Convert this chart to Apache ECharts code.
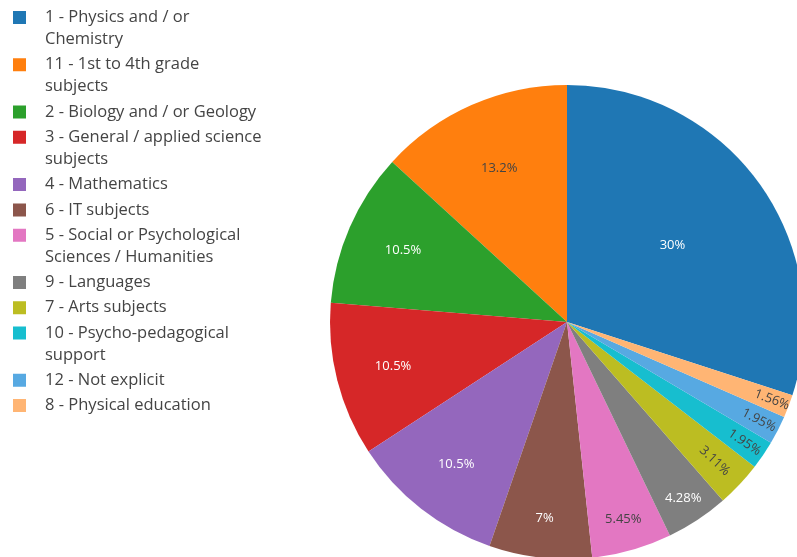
<!DOCTYPE html>
<html>
<head>
<meta charset="utf-8">
<title>Subject areas</title>
<script src="https://cdn.jsdelivr.net/npm/echarts@6/dist/echarts.min.js"></script>
<style>
  html, body { margin: 0; padding: 0; background: #fff; }
  #chart { width: 797px; height: 557px; }
</style>
</head>
<body>
<div id="chart"></div>
<script>
// Subject areas and their share of the total (percent), in drawing order.
const categories = [
  '1 - Physics and / or\nChemistry',
  '11 - 1st to 4th grade\nsubjects',
  '2 - Biology and / or Geology',
  '3 - General / applied science\nsubjects',
  '4 - Mathematics',
  '6 - IT subjects',
  '5 - Social or Psychological\nSciences / Humanities',
  '9 - Languages',
  '7 - Arts subjects',
  '10 - Psycho-pedagogical\nsupport',
  '12 - Not explicit',
  '8 - Physical education'
];
const shares = [30, 13.2, 10.5, 10.5, 10.5, 7, 5.45, 4.28, 3.11, 1.95, 1.95, 1.56];

// Slice colours.
const colors = [
  '#1f77b4', '#ff7f0e', '#2ca02c', '#d62728', '#9467bd', '#8c564b',
  '#e377c2', '#7f7f7f', '#bcbd22', '#17becf', '#57a9e2', '#ffb574'
];

// Pie geometry and label placement (fraction of radius, radial text for thin slices).
const CX = 567, CY = 322, RADIUS = 237;
const START_ANGLE = 90 - 360 * shares[0] / 100;
const labelRadius = [0.55, 0.71, 0.755, 0.757, 0.76, 0.835, 0.865, 0.89, 0.855, 0.905, 0.91, 0.925];
const radialText = [false, false, false, false, false, false, false, false, true, true, true, true];

const total = shares.reduce((a, b) => a + b, 0);
const midAngles = [];
let acc = START_ANGLE;
shares.forEach(v => {
  const span = v / total * 360;
  midAngles.push(acc + span / 2);
  acc += span;
});

// Dark text on light slices, white on dark ones.
function textColorFor(hex) {
  const r = parseInt(hex.slice(1, 3), 16), g = parseInt(hex.slice(3, 5), 16), b = parseInt(hex.slice(5, 7), 16);
  return (r * 299 + g * 587 + b * 114) / 1000 >= 128 ? '#444' : '#fff';
}

// Legend markers: square centred for one-line entries, at the top for two-line ones.
const ICON_SINGLE = 'path://M0,0L13,0M0,11L13,11L13,24L0,24ZM0,35L13,35';
const ICON_DOUBLE = 'path://M0,0L13,0L13,13L0,13ZM0,35L13,35';

const chart = echarts.init(document.getElementById('chart'), null, { renderer: 'canvas' });

chart.setOption({
  animation: false,
  backgroundColor: '#fff',
  color: colors,
  legend: {
    orient: 'vertical',
    left: 13,
    top: 0,
    padding: 0,
    itemWidth: 13,
    itemHeight: 35,
    itemGap: -9.72,
    selectedMode: false,
    itemStyle: { borderWidth: 0 },
    textStyle: {
      fontFamily: 'Open Sans',
      fontSize: 16.5,
      color: '#444',
      lineHeight: 22,
      padding: [0, 0, 0, 14]
    },
    data: categories.map(name => {
      const twoLines = name.indexOf('\n') >= 0;
      return {
        name: name,
        icon: twoLines ? ICON_DOUBLE : ICON_SINGLE,
        textStyle: { padding: twoLines ? [6.5, 0, 6.5, 14] : [0, 0, 0, 14] }
      };
    })
  },
  series: [{
    type: 'pie',
    center: [CX, CY],
    radius: RADIUS,
    startAngle: START_ANGLE,
    clockwise: false,
    avoidLabelOverlap: false,
    silent: true,
    itemStyle: { borderWidth: 0 },
    emphasis: { disabled: true },
    labelLine: { show: false },
    label: {
      show: true,
      position: 'inside',
      formatter: '{c}%',
      fontFamily: 'Open Sans',
      fontSize: 13
    },
    labelLayout: function (p) {
      const i = p.dataIndex;
      const a = midAngles[i] * Math.PI / 180;
      const r = RADIUS * labelRadius[i];
      const out = { x: CX + r * Math.cos(a), y: CY - r * Math.sin(a) };
      if (radialText[i]) {
        let deg = midAngles[i] % 360;
        if (deg > 180) deg -= 360;
        if (deg > 90) deg -= 180;
        if (deg < -90) deg += 180;
        out.rotate = deg;
      }
      return out;
    },
    data: categories.map((name, i) => ({
      name: name,
      value: shares[i],
      label: { color: textColorFor(colors[i]) }
    }))
  }]
});
</script>
</body>
</html>
